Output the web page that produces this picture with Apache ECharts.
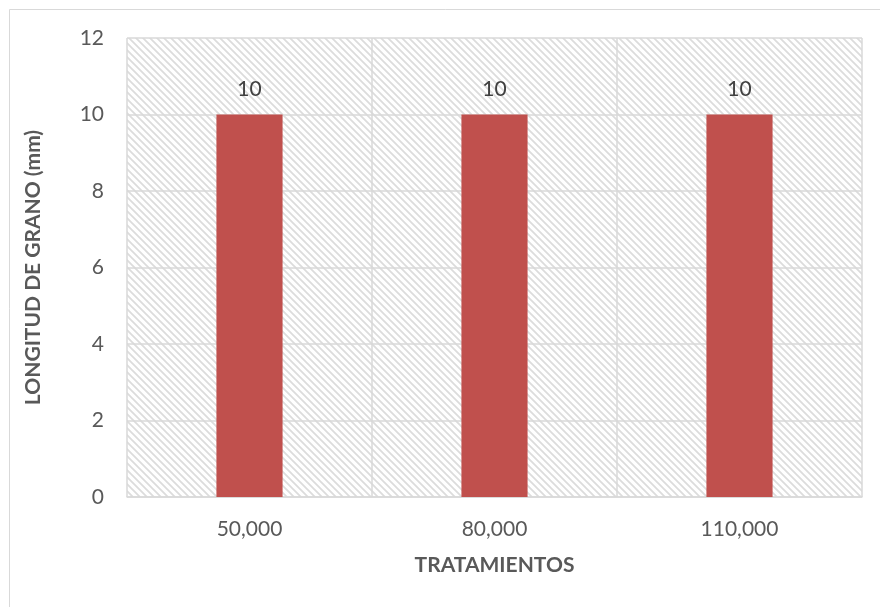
<!DOCTYPE html>
<html>
<head>
<meta charset="utf-8">
<script src="https://cdn.jsdelivr.net/npm/echarts@6/dist/echarts.min.js"></script>
<style>
  html, body { margin: 0; padding: 0; background: #fff; }
  #chart { width: 880px; height: 607px; }
</style>
</head>
<body>
<div id="chart"></div>
<script>
// datos del gráfico
const categorias = ['50,000', '80,000', '110,000']
const longitud = [10, 10, 10]

// patrón de rayas diagonales para el fondo del área de trazado
const makeHatch = () => {
  const s = 7
  const c = document.createElement('canvas')
  c.width = s
  c.height = s
  const ctx = c.getContext('2d')
  ctx.fillStyle = '#ffffff'
  ctx.fillRect(0, 0, s, s)
  ctx.strokeStyle = '#dcdcdc'
  ctx.lineWidth = 1.8
  ctx.beginPath()
  ctx.moveTo(-1, -1); ctx.lineTo(s + 1, s + 1)
  ctx.moveTo(-s - 1, -1); ctx.lineTo(1, s + 1)
  ctx.moveTo(s - 1, -1); ctx.lineTo(2 * s + 1, s + 1)
  ctx.stroke()
  return c
}

const myChart = echarts.init(document.getElementById('chart'))
const font = 'Lato, "Liberation Sans", sans-serif'

const option = {
  backgroundColor: '#fff',
  animation: false,
  graphic: [{
    type: 'rect',
    shape: { x: 9.5, y: 9.5, width: 900, height: 700 },
    style: { fill: 'none', stroke: '#d9d9d9', lineWidth: 1 },
    silent: true
  }],
  grid: {
    left: 127,
    right: 18,
    top: 38,
    bottom: 110,
    show: true,
    borderWidth: 0,
    backgroundColor: { image: makeHatch(), repeat: 'repeat' }
  },
  xAxis: {
    type: 'category',
    data: categorias,
    name: 'TRATAMIENTOS',
    nameLocation: 'middle',
    nameGap: 58,
    nameTextStyle: { fontFamily: font, fontSize: 21, fontWeight: 'bold', color: '#595959' },
    axisLine: { lineStyle: { color: '#d9d9d9', width: 1.5 } },
    axisTick: { show: false },
    axisLabel: { fontFamily: font, fontSize: 21, color: '#595959', margin: 22 },
    splitLine: { show: true, lineStyle: { color: '#d9d9d9', width: 1.5 } }
  },
  yAxis: {
    type: 'value',
    min: 0,
    max: 12,
    interval: 2,
    name: 'LONGITUD DE GRANO (mm)',
    nameLocation: 'middle',
    nameGap: 83,
    nameTextStyle: { fontFamily: font, fontSize: 21, fontWeight: 'bold', color: '#595959' },
    axisLine: { show: false },
    axisTick: { show: false },
    axisLabel: { fontFamily: font, fontSize: 21, color: '#595959', margin: 23 },
    splitLine: { lineStyle: { color: '#d9d9d9', width: 1.5 } }
  },
  series: [{
    type: 'bar',
    data: longitud,
    barWidth: '27%',
    itemStyle: { color: '#c0504d' },
    label: {
      show: true,
      position: 'top',
      distance: 15,
      fontFamily: font,
      fontSize: 21,
      color: '#404040'
    }
  }]
}
myChart.setOption(option)
</script>
</body>
</html>
